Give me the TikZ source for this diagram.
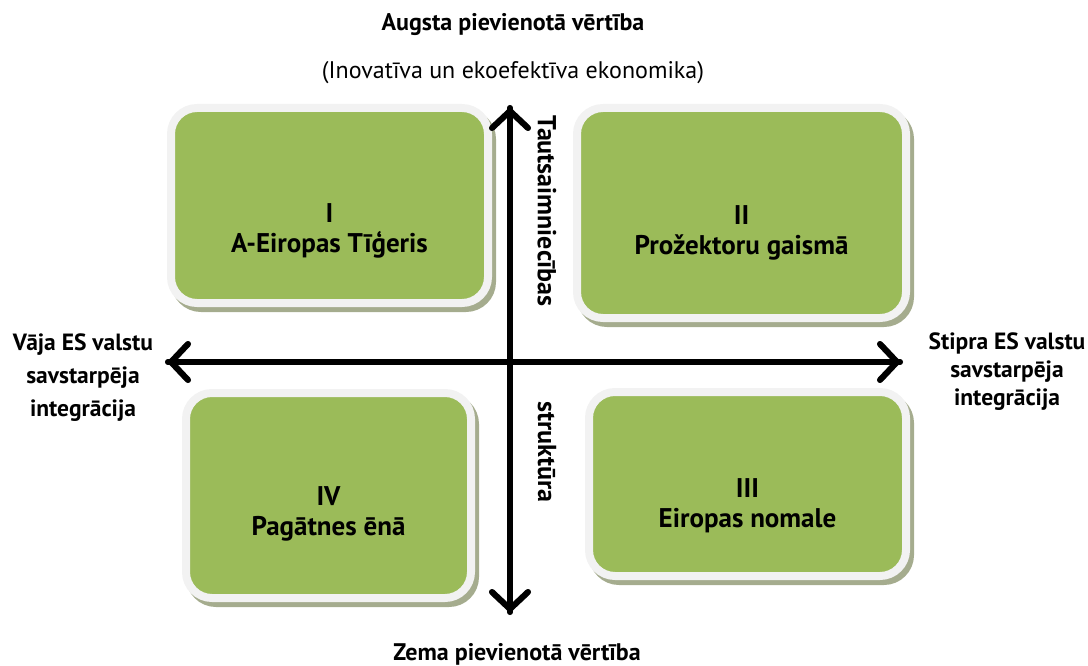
\documentclass[tikz,border=0pt]{standalone}
\usepackage{fontspec}
\setmainfont{PT Sans}
\usetikzlibrary{arrows.meta}
\usetikzlibrary{shadows}

\definecolor{quadgreen}{RGB}{155,187,89}
\definecolor{quadrim}{RGB}{242,242,242}
\definecolor{quadshade}{RGB}{165,172,142}
\definecolor{axisshade}{RGB}{150,150,150}

\begin{document}
\begin{tikzpicture}[x=1pt, y=-1pt,
        quad/.style={draw=quadrim, line width=8pt, fill=quadgreen, rounded corners=26pt,
            drop shadow={shadow xshift=4pt, shadow yshift=-5pt, fill=quadshade, draw=quadshade, line width=8pt, opacity=1}},
        quadtext/.style={align=center, font=\fontsize{27}{30}\selectfont\bfseries},
        title/.style={font=\fontsize{24}{28}\selectfont\bfseries},
        subtitle/.style={font=\fontsize{24}{28}\selectfont},
        side/.style={align=center, font=\fontsize{23.5}{33}\selectfont\bfseries},
        axis/.style={line width=6pt, line cap=round, -{Straight Barb[round,length=17pt,width=36pt]}}]
        \useasboundingbox (0,0) rectangle (1088,666);

        % quadrants
        \node[quad, minimum width=317pt, minimum height=195pt] (q1) at (329.5,205.5) {};
        \node[quad, minimum width=329pt, minimum height=210pt] (q2) at (741.5,213) {};
        \node[quad, minimum width=317pt, minimum height=184pt] (q3) at (747.5,484) {};
        \node[quad, minimum width=285pt, minimum height=205pt] (q4) at (328.5,495.5) {};

        \node[quadtext] (t1) at ([yshift=-25pt]q1.center) {I\\A-Eiropas Tīģeris};
        \node[quadtext] (t2) at ([yshift=-20pt]q2.center) {II\\Prožektoru gaismā};
        \node[quadtext] (t3) at ([yshift=-22pt]q3.center) {III\\Eiropas nomale};
        \node[quadtext] (t4) at ([yshift=-18pt]q4.center) {IV\\Pagātnes ēnā};

        % axes
        \coordinate (top) at (510,108);
        \coordinate (bottom) at (510,612);
        \coordinate (left) at (168,362);
        \coordinate (right) at (900,362);

        \begin{scope}[xshift=3pt, yshift=-3pt]
            \draw[axis, axisshade] (bottom) -- (top);
            \draw[axis, axisshade] (top) -- (bottom);
            \draw[axis, axisshade] (right) -- (left);
            \draw[axis, axisshade] (left) -- (right);
        \end{scope}
        \draw[axis] (bottom) -- (top);
        \draw[axis] (top) -- (bottom);
        \draw[axis] (right) -- (left);
        \draw[axis] (left) -- (right);

        % labels
        \node[title] (high) at (513,25) {Augsta pievienotā vērtība};
        \node[subtitle] (highsub) at (513,73) {(Inovatīva un ekoefektīva ekonomika)};
        \node[title] (low) at (517,654) {Zema pievienotā vērtība};
        \node[side] (weak) at (83,378) {Vāja ES valstu\\savstarpēja\\integrācija};
        \node[side, font=\fontsize{23.5}{28}\selectfont\bfseries] (strong) at (1007,372) {Stipra ES valstu\\savstarpēja\\integrācija};
        \node[title, font=\fontsize{26}{30}\selectfont\bfseries, rotate=-90] (economy) at (547,211) {Tautsaimniecības};
        \node[title, font=\fontsize{26}{30}\selectfont\bfseries, rotate=-90] (structure) at (547,452) {struktūra};
    \end{tikzpicture}
\end{document}
